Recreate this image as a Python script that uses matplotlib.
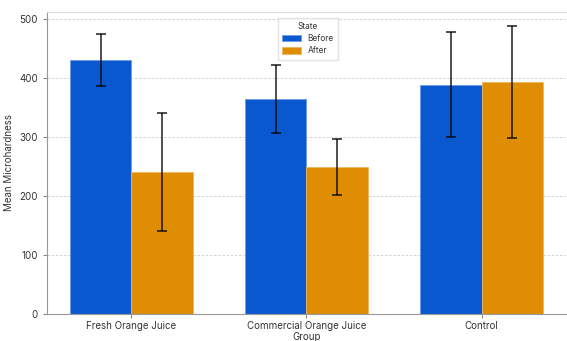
import matplotlib
matplotlib.use("Agg")
import matplotlib.pyplot as plt
import numpy as np

plt.rcParams['font.family'] = ['Inter', 'DejaVu Sans']

groups = ["Fresh Orange Juice", "Commercial Orange Juice", "Control"]
states = ["Before", "After"]
before_mean = [430, 364, 389]
before_sd = [44, 58, 89]
after_mean = [241, 249, 393]
after_sd = [100, 47, 95]
colors = ["#0A58CF", "#DF8E04"]

fig = plt.figure(figsize=(5.67, 3.41), dpi=100)
ax = fig.add_axes([0.083, 0.079, 0.915, 0.886])

x = np.arange(len(groups))
w = 0.35
ekw = dict(ecolor=(0, 0, 0, 0.75), elinewidth=1.3, capsize=3.5, capthick=1.3)
ax.bar(x - w/2, before_mean, w, yerr=before_sd, color=colors[0], edgecolor="#6E9BE3",
       linewidth=0.6, label=states[0], error_kw=ekw, zorder=2)
ax.bar(x + w/2, after_mean, w, yerr=after_sd, color=colors[1], edgecolor="#EFB660",
       linewidth=0.6, label=states[1], error_kw=ekw, zorder=2)

ax.set_xticks(x)
ax.set_xticklabels(groups, fontsize=7, color="#333333")
ax.set_xlim(-0.48, 2.48)
ax.set_ylim(0, 512)
ax.set_yticks([0, 100, 200, 300, 400, 500])
ax.tick_params(axis='y', labelsize=7, length=3, color="#888888", labelcolor="#333333")
ax.tick_params(axis='x', length=3, color="#888888", pad=2)
ax.set_xlabel("Group", fontsize=7, labelpad=1, color="#333333")
ax.set_ylabel("Mean Microhardness", fontsize=7, color="#333333")
ax.yaxis.grid(True, linestyle=(0, (3, 2)), color="#cccccc", linewidth=0.6, zorder=0)
ax.set_axisbelow(True)
for s in ["left", "bottom"]:
    ax.spines[s].set_color("#999999")
ax.spines["top"].set_color("#dddddd")
ax.spines["right"].set_visible(False)

leg = ax.legend(title="State", loc="upper center", bbox_to_anchor=(0.503, 0.995),
                fontsize=6, title_fontsize=6, frameon=True, fancybox=False,
                handlelength=2.2, handleheight=0.8, borderpad=0.5, labelspacing=0.4)
leg.get_frame().set_edgecolor("#dddddd")
for t in leg.get_texts():
    t.set_color("#333333")
leg.get_title().set_color("#333333")

fig.savefig("out.png", dpi=100)
